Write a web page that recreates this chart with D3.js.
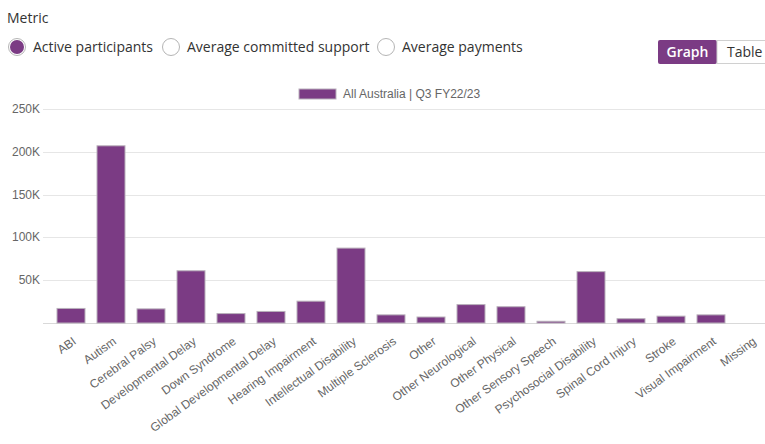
<!DOCTYPE html>
<html lang="en">
<head>
<meta charset="utf-8">
<title>Active participants by disability</title>
<script src="https://d3js.org/d3.v7.min.js"></script>
<style>
  body { margin: 0; background: #fff; }
  svg { display: block; }
</style>
</head>
<body>
<div id="chart"></div>
<script>
    // data
    const categories = ["ABI", "Autism", "Cerebral Palsy", "Developmental Delay", "Down Syndrome",
        "Global Developmental Delay", "Hearing Impairment", "Intellectual Disability", "Multiple Sclerosis",
        "Other", "Other Neurological", "Other Physical", "Other Sensory Speech", "Psychosocial Disability",
        "Spinal Cord Injury", "Stroke", "Visual Impairment", "Missing"];
    const participants = [17000, 207000, 16500, 61000, 11000, 13500, 25500, 87500, 9500,
        7000, 21500, 19000, 2000, 60000, 5000, 8000, 9500, 0];
    const yTicks = [0, 50000, 100000, 150000, 200000, 250000];
    const metrics = ["Active participants", "Average committed support", "Average payments"];
    const seriesLabel = "All Australia | Q3 FY22/23";

    const purple = "#7b3b84";
    let W = 765, H = 444;

    let svg = d3.select("#chart").append("svg")
        .attr("width", W)
        .attr("height", H);

    // header: metric radios
    svg.append("text")
        .attr("x", 7).attr("y", 23)
        .style("font-family", "'Open Sans', sans-serif")
        .style("font-size", "14px")
        .style("fill", "#333")
        .text("Metric");

    let radioX = [17, 171, 386];
    let radios = svg.selectAll(".radio")
        .data(metrics)
        .enter().append("g")
        .attr("class", "radio")
        .attr("transform", (d, i) => "translate(" + radioX[i] + ",47)");
    radios.append("circle")
        .attr("r", 8.5)
        .style("fill", "#fff")
        .style("stroke", "#b5b5b5")
        .style("stroke-width", 1);
    radios.filter((d, i) => i == 0).append("circle")
        .attr("r", 7)
        .style("fill", purple);
    radios.append("text")
        .attr("x", 16).attr("y", 5)
        .style("font-family", "'Open Sans', sans-serif")
        .style("font-size", "14px")
        .style("fill", "#333")
        .text(d => d);

    // Graph / Table toggle
    svg.append("rect")
        .attr("x", 658).attr("y", 40).attr("width", 59).attr("height", 24)
        .attr("rx", 2)
        .style("fill", purple);
    svg.append("rect")
        .attr("x", 717).attr("y", 40.5).attr("width", 60).attr("height", 23)
        .style("fill", "#fff")
        .style("stroke", "#d0d0d0");
    svg.append("text")
        .attr("x", 687.5).attr("y", 57)
        .attr("text-anchor", "middle")
        .style("font-family", "'Open Sans', sans-serif")
        .style("font-size", "14px")
        .style("font-weight", "600")
        .style("fill", "#fff")
        .text("Graph");
    svg.append("text")
        .attr("x", 727).attr("y", 57)
        .style("font-family", "'Open Sans', sans-serif")
        .style("font-size", "14px")
        .style("fill", "#333")
        .text("Table");

    // chart area
    let plotLeft = 43, plotRight = 771;
    let xScale = d3.scaleBand()
        .domain(categories)
        .range([51, 771])
        .paddingInner(0.3)
        .paddingOuter(0.15);

    let yScale = d3.scaleLinear()
        .domain([0, 250000])
        .range([323, 109]);

    let fmtK = v => v == 0 ? "" : (v / 1000) + "K";

    // gridlines + y labels
    let grid = svg.append("g").attr("class", "grid");
    grid.selectAll("line")
        .data(yTicks)
        .enter().append("line")
        .attr("x1", plotLeft).attr("x2", plotRight)
        .attr("y1", d => Math.round(yScale(d)) + 0.5)
        .attr("y2", d => Math.round(yScale(d)) + 0.5)
        .style("stroke", d => d == 0 ? "#d9d9d9" : "#e6e6e6")
        .style("stroke-width", 1);
    grid.selectAll("text")
        .data(yTicks)
        .enter().append("text")
        .attr("x", 40)
        .attr("y", d => yScale(d) + 4)
        .attr("text-anchor", "end")
        .style("font-family", "'Liberation Sans', Arial, sans-serif")
        .style("font-size", "12px")
        .style("fill", "#666")
        .text(fmtK);

    // bars
    svg.selectAll(".bar")
        .data(participants)
        .enter().append("rect")
        .attr("class", "bar")
        .attr("x", (d, i) => xScale(categories[i]))
        .attr("width", xScale.bandwidth())
        .attr("y", d => yScale(d))
        .attr("height", d => yScale(0) - yScale(d))
        .style("fill", purple)
        .style("stroke", "#b9b0bb")
        .style("stroke-width", 1);

    // x labels
    svg.selectAll(".xlabel")
        .data(categories)
        .enter().append("text")
        .attr("class", "xlabel")
        .attr("text-anchor", "end")
        .attr("transform", d => "translate(" + (xScale(d) + xScale.bandwidth() / 2 + 6) + ",343) rotate(-36)")
        .style("font-family", "'Liberation Sans', Arial, sans-serif")
        .style("font-size", "12px")
        .style("fill", "#666")
        .text(d => d);

    // legend
    svg.append("rect")
        .attr("x", 299).attr("y", 89).attr("width", 37).attr("height", 10)
        .style("fill", purple)
        .style("stroke", "#b9b0bb");
    svg.append("text")
        .attr("x", 343).attr("y", 98)
        .style("font-family", "'Liberation Sans', Arial, sans-serif")
        .style("font-size", "12px")
        .style("fill", "#666")
        .text(seriesLabel);
</script>
</body>
</html>
